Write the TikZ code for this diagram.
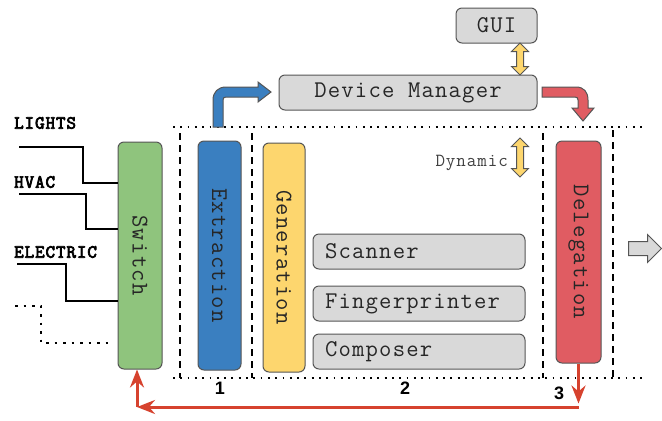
\documentclass[tikz,border=0pt]{standalone}
\usepackage{fontspec}
\setmonofont{Latin Modern Mono}[LetterSpace=5]
\newfontfamily\tagfont{Latin Modern Mono}[LetterSpace=5,FakeBold=4]
\newfontfamily\numfont{Liberation Sans}
\usepackage{graphicx}
\usepackage{tikz}
\usetikzlibrary{arrows.meta,positioning,shapes.arrows}

\definecolor{swgreen}{RGB}{143,196,125}
\definecolor{exblue}{RGB}{58,127,192}
\definecolor{genyellow}{RGB}{253,214,110}
\definecolor{delred}{RGB}{224,92,98}
\definecolor{retred}{RGB}{214,66,46}
\definecolor{boxgray}{RGB}{217,217,217}
\definecolor{edgegray}{RGB}{85,85,85}

\begin{document}
\begin{tikzpicture}[x=1bp,y=-1bp,>={Stealth[length=18bp,width=14bp,inset=6bp]}]
    \tikzstyle{block}=[draw=edgegray,line width=1bp,rounded corners=6bp,inner sep=0pt,text=black!85,font=\ttfamily\fontsize{24bp}{26bp}\selectfont]
    \tikzstyle{bar}=[block,minimum width=44bp]
    \tikzstyle{tool}=[block,fill=boxgray,minimum height=35bp,text width=188bp,inner xsep=12bp,align=left]
    \tikzstyle{tag}=[anchor=west,inner sep=0pt,font=\tagfont\fontsize{18.5bp}{20bp}\selectfont]
    \tikzstyle{stage}=[inner sep=0pt,font=\numfont\bfseries\fontsize{18bp}{20bp}\selectfont]
    \tikzstyle{wire}=[line width=2.5bp,black]
    \tikzstyle{dots}=[line width=1.8bp,dash pattern=on 1.8bp off 5.5bp]
    \tikzstyle{dashes}=[line width=1.5bp,dash pattern=on 7bp off 5bp]
    \tikzstyle{ret}=[line width=3bp,retred]
    \tikzstyle{fat}=[draw=edgegray,line width=1bp]
    \useasboundingbox (0,0) rectangle (662,420);

    % stage frames
    \draw[dots] (173,127) -- (643,127);
    \draw[dots] (173,378) -- (643,378);
    \foreach \x/\y in {180/133,252/133,543/133,613/130}
        \draw[dashes] (\x,\y) -- (\x,378);

    % modules
    \node[bar,fill=swgreen,minimum height=227bp] (switch) at (140,255.5) {\rotatebox{-90}{Switch}};
    \node[bar,fill=exblue,minimum width=43bp,minimum height=229bp] (extraction) at (219.5,255.5) {\rotatebox{-90}{Extraction}};
    \node[bar,fill=genyellow,minimum width=42bp,minimum height=229bp] (generation) at (284,257.5) {\rotatebox{-90}{Generation}};
    \node[bar,fill=delred,minimum width=45bp,minimum height=222bp] (delegation) at (578.5,252) {\rotatebox{-90}{Delegation}};
    \node[tool] (scanner) at (419,251.5) {Scanner};
    \node[tool,below=16bp of scanner] (fingerprinter) {Fingerprinter};
    \node[tool,below=12bp of fingerprinter] (composer) {Composer};
    \node[block,fill=boxgray,minimum width=258bp,minimum height=35bp] (manager) at (408,92.5) {Device Manager};
    \node[block,fill=boxgray,minimum width=81bp,minimum height=35bp] (gui) at (496.5,25.5) {GUI};

    % labels
    \node[tag] (lights) at (14,123) {LIGHTS};
    \node[tag] (hvac) at (14,182) {HVAC};
    \node[tag] (electric) at (14,252) {ELECTRIC};
    \node[stage] (one) at (220,388) {1};
    \node[stage] (two) at (405,388) {2};
    \node[stage] (three) at (559,393) {3};
    \node[inner sep=0pt,anchor=east,text=black!75,font=\ttfamily\fontsize{18.5bp}{20bp}\selectfont] (dynamic) at (508,163) {Dynamic};

    % inputs
    \coordinate (lin) at (19,147);
    \coordinate (hin) at (19,194);
    \coordinate (ein) at (17,264);
    \draw[wire] (lin) -- (83,147) -- (83,183) -- (83,183 -| switch.west);
    \draw[wire] (hin) -- (86,194) -- (86,229) -- (86,229 -| switch.west);
    \draw[wire] (ein) -- (66,264) -- (66,301) -- (66,301 -| switch.west);
    \draw[wire,dash pattern=on 2.5bp off 6bp] (15,306) -- (41,306) -- (41,343) -- (110,343);

    % fat arrows
    \draw[fat,fill=exblue] (213,127) -- (213,100) .. controls (213,92) and (218,87) .. (226,87) -- (258,87) -- (258,82) -- (271,92) -- (258,102) -- (258,97) -- (226,97) .. controls (224,97) and (223,98) .. (223,100) -- (223,127) -- cycle;
    \draw[fat,fill=delred] (542,87) -- (576,87) .. controls (584,87) and (588,92) .. (588,100) -- (588,108) -- (594,108) -- (583,121) -- (572,108) -- (578,108) -- (578,100) .. controls (578,98) and (577,97) .. (575,97) -- (542,97) -- cycle;
    \node[double arrow,fat,fill=genyellow,rotate=90,minimum height=32bp,inner sep=3bp,double arrow head extend=5bp] (guilink) at (520,59) {};
    \node[double arrow,fat,fill=genyellow,rotate=90,minimum height=39bp,inner sep=3bp,double arrow head extend=5bp] (dynlink) at (520,157.5) {};
    \node[single arrow,fat,fill=boxgray,minimum height=33bp,inner sep=6.5bp,single arrow head extend=7bp] (out) at (641.5,248.5) {};

    % feedback
    \coordinate (drop) at (578.5,407);
    \coordinate (corner) at (137,407);
    \draw[ret,->] (delegation.south) -- ++(0,40);
    \draw[ret,->] (drop) -- (corner);
    \draw[ret,->] (corner) -- (corner |- switch.south);
\end{tikzpicture}
\end{document}
